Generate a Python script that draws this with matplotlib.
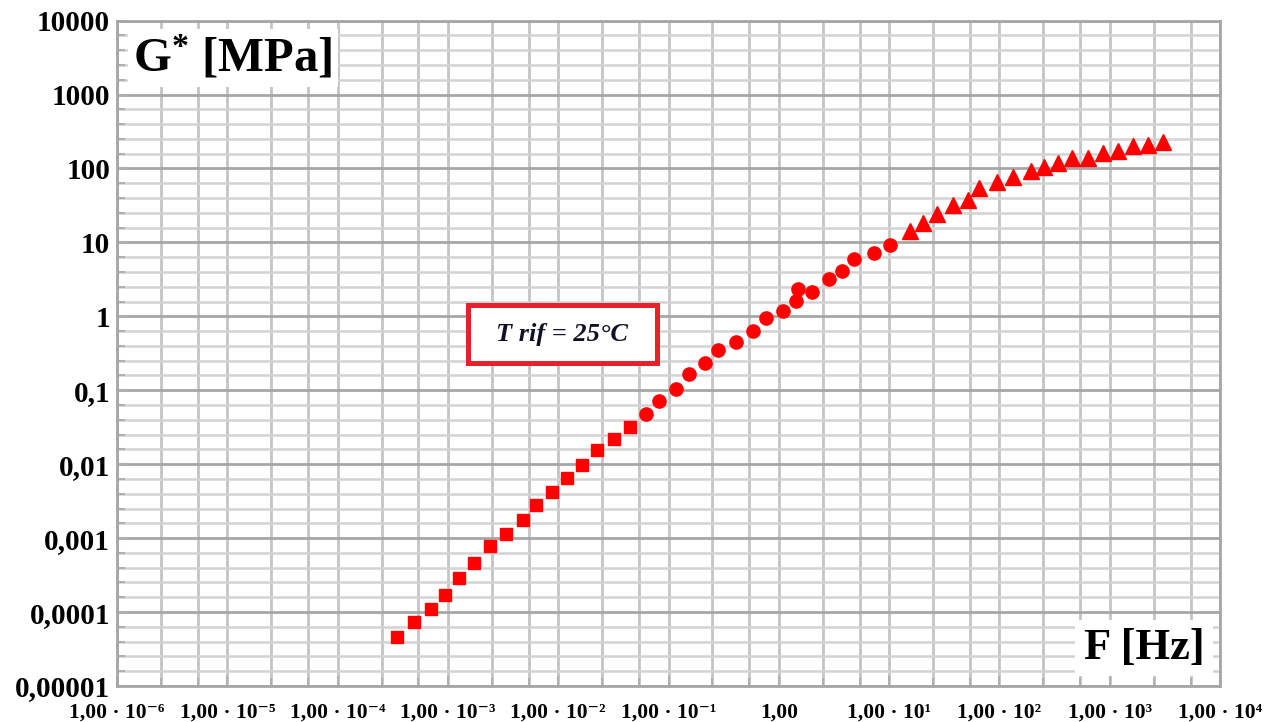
import matplotlib
matplotlib.use('Agg')
import matplotlib.pyplot as plt
from matplotlib.patches import Rectangle
from matplotlib.ticker import FixedLocator, FixedFormatter, NullFormatter

plt.rcParams['font.family'] = ['Liberation Serif', 'DejaVu Serif']
plt.rcParams['mathtext.fontset'] = 'custom'
plt.rcParams['mathtext.rm'] = 'Liberation Serif:bold'
plt.rcParams['mathtext.bf'] = 'Liberation Serif:bold'

# master curve data, three frequency sweeps shifted to 25 C
f_sq = [3.47e-4, 4.90e-4, 7.03e-4, 9.35e-4, 1.27e-3, 1.73e-3, 2.42e-3, 3.39e-3,
        4.76e-3, 6.29e-3, 8.79e-3, 1.21e-2, 1.63e-2, 2.23e-2, 3.23e-2, 4.51e-2]
g_sq = [4.53e-5, 7.23e-5, 1.09e-4, 1.68e-4, 2.88e-4, 4.55e-4, 7.87e-4, 1.14e-3,
        1.75e-3, 2.77e-3, 4.19e-3, 6.43e-3, 9.72e-3, 1.55e-2, 2.17e-2, 3.15e-2]

f_ci = [6.21e-2, 8.20e-2, 0.117, 0.152, 0.214, 0.283, 0.406, 0.583, 0.771,
        1.084, 1.44, 1.48, 2.01, 2.83, 3.74, 4.81, 7.29, 10.2]
g_ci = [4.72e-2, 7.14e-2, 0.104, 0.164, 0.231, 0.350, 0.449, 0.627, 0.957,
        1.19, 1.61, 2.32, 2.13, 3.23, 4.14, 6.06, 7.26, 9.22]

f_tr = [15.5, 20.4, 27.0, 37.7, 52.2, 65.8, 94.5, 134, 192, 254, 338, 452,
        640, 875, 1197, 1637, 2239, 3062]
g_tr = [14.4, 18.5, 24.0, 32.1, 37.5, 54.0, 65.7, 77.4, 91.6, 104, 118, 140,
        137, 164, 171, 201, 210, 228]

x_ticks = [1e-6, 1e-5, 1e-4, 1e-3, 1e-2, 1e-1, 1, 1e1, 1e2, 1e3, 1e4]
x_labels = ['1,00 · 10⁻⁶', '1,00 · 10⁻⁵', '1,00 · 10⁻⁴', '1,00 · 10⁻³',
            '1,00 · 10⁻²', '1,00 · 10⁻¹', '1,00', '1,00 · 10¹', '1,00 · 10²',
            '1,00 · 10³', '1,00 · 10⁴']
y_ticks = [1e-5, 1e-4, 1e-3, 1e-2, 1e-1, 1, 10, 100, 1000, 10000]
y_labels = ['0,00001', '0,0001', '0,001', '0,01', '0,1', '1', '10', '100',
            '1000', '10000']

fig = plt.figure(figsize=(12.86, 7.22), dpi=100)
ax = fig.add_axes([0.091, 0.0499, 0.8577, 0.9215])
ax.set_xscale('log')
ax.set_yscale('log')
ax.set_xlim(1e-6, 1e4)
ax.set_ylim(1e-5, 1e4)

red = '#ff0000'
ax.plot(f_sq, g_sq, ls='none', marker='s', ms=8.6, color=red, mec=red)
ax.plot(f_ci, g_ci, ls='none', marker='o', ms=9.5, color=red, mec=red)
ax.plot(f_tr, g_tr, ls='none', marker='^', ms=12, color=red, mec=red)

# ticks and grid
ax.xaxis.set_major_locator(FixedLocator(x_ticks))
ax.xaxis.set_major_formatter(FixedFormatter(x_labels))
x_minor = [d * m for d in x_ticks[:-1] for m in (2.5, 5.4)]
ax.xaxis.set_minor_locator(FixedLocator(x_minor))
ax.xaxis.set_minor_formatter(NullFormatter())

ax.yaxis.set_major_locator(FixedLocator(y_ticks))
ax.yaxis.set_major_formatter(FixedFormatter(y_labels))
y_minor = [d * 10 ** k for d in y_ticks[:-1] for k in (0.2, 0.4, 0.6, 0.8)]
ax.yaxis.set_minor_locator(FixedLocator(y_minor))
ax.yaxis.set_minor_formatter(NullFormatter())

ax.grid(True, axis='x', which='both', color='#c4c4c4', lw=2)
ax.grid(True, axis='y', which='minor', color='#d3d3d3', lw=1.8)
ax.grid(True, axis='y', which='major', color='#a6a6a6', lw=2)

ax.tick_params(which='both', direction='in', color='#b0b0b0', width=1.5)
ax.tick_params(which='major', length=7)
ax.tick_params(which='minor', length=6)
ax.tick_params(axis='x', pad=12)
ax.tick_params(axis='y', pad=5)
for lab in ax.get_xticklabels():
    lab.set_fontsize(15.5)
    lab.set_fontweight('bold')
for lab in ax.get_yticklabels():
    lab.set_fontsize(21)
    lab.set_fontweight('bold')

for sp in ax.spines.values():
    sp.set_color('#a6a6a6')
    sp.set_linewidth(2)

# axis titles inside the plot area
ax.text(0.105, 0.944, r'$\mathbf{G^{*}}$ [MPa]', transform=ax.transAxes,
        ha='center', va='center', fontsize=35, fontweight='bold',
        bbox=dict(facecolor='white', edgecolor='none', pad=4))
ax.text(0.931, 0.057, 'F [Hz]', transform=ax.transAxes,
        ha='center', va='center', fontsize=32, fontweight='bold',
        bbox=dict(facecolor='white', edgecolor='none', pad=6))

# reference temperature box
ax.add_patch(Rectangle((0.318, 0.4855), 0.1716, 0.0872, transform=ax.transAxes,
                       facecolor='white', edgecolor='#e8202a', lw=3.6,
                       zorder=3))
ax.text(0.4034, 0.529, 'T rif = 25°C', transform=ax.transAxes,
        ha='center', va='center', fontsize=19, fontweight='bold',
        style='italic', color='#101028', zorder=4)

fig.savefig('out.png', dpi=100)
